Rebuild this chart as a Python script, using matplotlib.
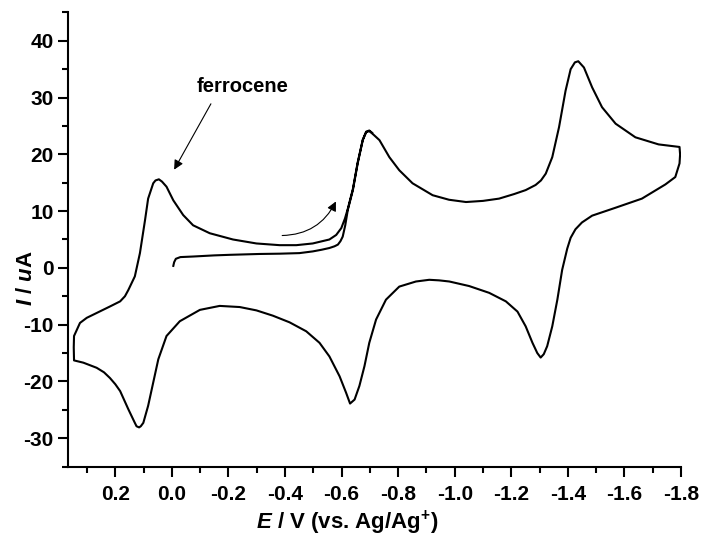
import matplotlib
matplotlib.use('Agg')
import matplotlib.pyplot as plt
from matplotlib.ticker import MultipleLocator

plt.rcParams['font.family'] = 'Liberation Sans'
plt.rcParams['font.weight'] = 'bold'
plt.rcParams['axes.unicode_minus'] = False
plt.rcParams['mathtext.fontset'] = 'custom'
plt.rcParams['mathtext.rm'] = 'Liberation Sans:bold'
plt.rcParams['mathtext.it'] = 'Liberation Sans:italic:bold'
plt.rcParams['mathtext.bf'] = 'Liberation Sans:bold'

# potential (V vs Ag/Ag+) and current (uA)
# first sweep: 0 V -> -1.8 V
E_fwd = [-0.005, -0.008, -0.014, -0.03, -0.075, -0.15, -0.205, -0.31, -0.381, -0.451,
         -0.498, -0.530, -0.557, -0.575, -0.587, -0.596, -0.604, -0.613, -0.622, -0.640,
         -0.657, -0.675, -0.687, -0.698, -0.710, -0.734, -0.769, -0.804, -0.851, -0.922,
         -0.98, -1.040, -1.10, -1.157, -1.210, -1.251, -1.286, -1.305, -1.322, -1.345,
         -1.369, -1.392, -1.410, -1.425, -1.437, -1.457, -1.486, -1.521, -1.569, -1.639,
         -1.721, -1.795]
I_fwd = [0.35, 1.0, 1.6, 1.9, 2.0, 2.2, 2.3, 2.45, 2.5, 2.6,
         2.9, 3.2, 3.5, 3.8, 4.1, 4.7, 5.5, 7.5, 10.2, 13.7,
         18.4, 22.5, 23.9, 24.1, 23.6, 22.5, 19.5, 17.2, 14.9, 12.8,
         12.0, 11.6, 11.8, 12.2, 13.0, 13.7, 14.6, 15.4, 16.6, 19.5,
         24.8, 31.2, 35.0, 36.2, 36.4, 35.3, 31.8, 28.3, 25.4, 23.0,
         21.75, 21.3]
# reverse sweep: -1.8 V -> +0.35 V
E_rev = [-1.797, -1.795, -1.780, -1.745, -1.662, -1.569, -1.486, -1.45, -1.427, -1.410,
         -1.398, -1.380, -1.363, -1.345, -1.327, -1.315, -1.304, -1.292, -1.275, -1.251,
         -1.222, -1.181, -1.122, -1.051, -0.981, -0.945, -0.910, -0.863, -0.804, -0.757,
         -0.722, -0.698, -0.681, -0.663, -0.646, -0.630, -0.616, -0.593, -0.557, -0.522,
         -0.475, -0.416, -0.357, -0.299, -0.240, -0.169, -0.099, -0.028, 0.019, 0.048,
         0.066, 0.084, 0.101, 0.110, 0.116, 0.125, 0.131, 0.154, 0.183, 0.20,
         0.219, 0.24, 0.266, 0.313, 0.346]
I_rev = [20.0, 18.4, 16.0, 14.7, 12.2, 10.6, 9.2, 8.0, 6.8, 5.3,
         3.4, -0.35, -5.6, -10.3, -13.8, -15.2, -15.8, -15.0, -13.2, -10.3,
         -7.7, -5.9, -4.4, -3.2, -2.4, -2.2, -2.1, -2.4, -3.3, -5.6,
         -9.1, -13.2, -17.3, -20.8, -23.2, -23.9, -22.0, -19.1, -15.6, -13.2,
         -11.17, -9.59, -8.42, -7.49, -6.9, -6.7, -7.4, -9.4, -12.0, -16.1,
         -20.2, -24.3, -27.3, -27.9, -28.1, -27.9, -27.3, -24.9, -21.7, -20.5,
         -19.4, -18.4, -17.6, -16.7, -16.3]
# second sweep: +0.35 V -> -0.7 V
E_2nd = [0.347, 0.346, 0.336, 0.325, 0.301, 0.266, 0.219, 0.183, 0.166, 0.154,
         0.131, 0.113, 0.095, 0.084, 0.066, 0.058, 0.046, 0.035, 0.019, -0.005,
         -0.040, -0.075, -0.134, -0.216, -0.299, -0.381, -0.44, -0.498, -0.557, -0.581,
         -0.599, -0.612, -0.622, -0.640, -0.657, -0.675, -0.687, -0.698, -0.708]
I_2nd = [-14.0, -12.0, -10.9, -9.7, -8.8, -7.95, -6.8, -5.9, -5.0, -3.9,
         -1.5, 2.6, 8.4, 12.2, 14.9, 15.4, 15.6, 15.2, 14.3, 11.9,
         9.3, 7.5, 6.1, 5.0, 4.3, 4.0, 4.0, 4.3, 5.0, 5.8,
         7.0, 8.7, 10.4, 13.9, 18.6, 22.6, 24.0, 24.2, 23.8]

x_ticks = [0.2, 0.0, -0.2, -0.4, -0.6, -0.8, -1.0, -1.2, -1.4, -1.6, -1.8]
y_ticks = [-30, -20, -10, 0, 10, 20, 30, 40]

E = E_fwd + E_rev + E_2nd
I = I_fwd + I_rev + I_2nd

fig = plt.figure(figsize=(7.02, 5.4), dpi=100)
ax = fig.add_axes([0.097, 0.136, 0.873, 0.841])
ax.plot(E, I, color='black', lw=1.5, solid_joinstyle='round')

ax.set_xlim(0.367, -1.8)
ax.set_ylim(-35, 45)
ax.set_xticks(x_ticks)
ax.set_xticklabels([f'{v:.1f}' for v in x_ticks])
ax.set_yticks(y_ticks)
ax.xaxis.set_minor_locator(MultipleLocator(0.1))
ax.yaxis.set_minor_locator(MultipleLocator(5))
for s in ['top', 'right']:
    ax.spines[s].set_visible(False)
for s in ['left', 'bottom']:
    ax.spines[s].set_linewidth(1.5)
ax.tick_params(which='major', direction='out', length=7, width=1.5, labelsize=15)
ax.tick_params(axis='x', which='major', pad=6)
ax.tick_params(axis='y', which='major', pad=3.5)
ax.tick_params(which='minor', direction='out', length=4, width=1.5)

ax.set_xlabel(r'$E$ / V (vs. Ag/Ag$^{+}$)', fontsize=16, fontweight='bold')
ax.set_ylabel(r'$I$ / $u$A', fontsize=16, fontweight='bold')
ax.xaxis.set_label_coords(0.456, -0.093)
ax.yaxis.set_label_coords(-0.05, 0.415)

ax.text(-0.25, 31.9, 'ferrocene', fontsize=14.5, fontweight='bold', ha='center', va='center')
ax.annotate('', xy=(-0.008, 17.3), xytext=(-0.138, 28.9),
            arrowprops=dict(arrowstyle='-|>', color='black', lw=0.8, mutation_scale=14,
                            shrinkA=0, shrinkB=0))
ax.annotate('', xy=(-0.58, 11.7), xytext=(-0.39, 5.7),
            arrowprops=dict(arrowstyle='-|>', color='black', lw=0.8, mutation_scale=14,
                            shrinkA=0, shrinkB=0, connectionstyle='arc3,rad=0.3'))

fig.savefig('out.png', dpi=100)
